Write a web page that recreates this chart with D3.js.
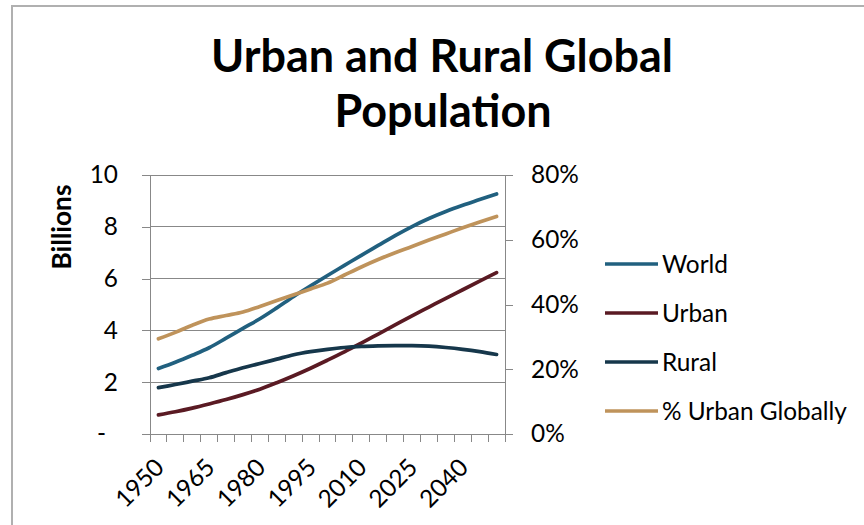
<!DOCTYPE html>
<html>
<head>
<meta charset="utf-8">
<script src="https://cdn.jsdelivr.net/npm/d3@7"></script>
<style>
  body { margin: 0; background: #fff; }
  text { font-family: Lato, "Open Sans", sans-serif; fill: #000; }
</style>
</head>
<body>
<script>
// data
var years = ["1950","1955","1960","1965","1970","1975","1980","1985","1990","1995","2000",
  "2005","2010","2015","2020","2025","2030","2035","2040","2045","2050"];
var world = [2.53,2.77,3.04,3.33,3.70,4.08,4.45,4.87,5.31,5.72,6.12,6.51,6.90,7.28,7.66,8.01,8.32,8.59,8.83,9.05,9.27];
var urban = [0.74,0.86,1.00,1.16,1.33,1.52,1.73,1.98,2.25,2.54,2.85,3.17,3.51,3.86,4.21,4.56,4.90,5.24,5.57,5.90,6.23];
var rural = [1.79,1.91,2.04,2.17,2.37,2.56,2.72,2.89,3.06,3.18,3.27,3.34,3.38,3.40,3.41,3.41,3.39,3.34,3.27,3.18,3.07];
var pctUrban = [0.294,0.314,0.336,0.355,0.366,0.377,0.394,0.412,0.430,0.448,0.466,0.491,0.516,0.539,0.560,0.579,0.599,0.618,0.637,0.655,0.672];
var yearLabels = ["1950","1965","1980","1995","2010","2025","2040"];
var leftTicks = [0,2,4,6,8,10];
var rightTicks = [0,0.2,0.4,0.6,0.8];

var SERIES = [
  {name:"World", values:world, color:"#21607f", axis:"left"},
  {name:"Urban", values:urban, color:"#5a1a23", axis:"left"},
  {name:"Rural", values:rural, color:"#16374b", axis:"left"},
  {name:"% Urban Globally", values:pctUrban, color:"#bf935b", axis:"right"}
];

var W = 864, H = 525;
var pL = 150, pR = 505, pT = 175, pB = 434;
var axisColor = "#888";

var svg = d3.select("body").append("svg").attr("width", W).attr("height", H);

// outer chart border (only top/left visible)
svg.append("rect").attr("x", 12).attr("y", 6).attr("width", 900).attr("height", 600)
  .attr("fill", "none").attr("stroke", "#b0b0b0").attr("stroke-width", 2);

// shrink/grow font so a text hits a width
function fitWidth(t, target) {
  var fs = parseFloat(t.style("font-size"));
  var w = t.node().getComputedTextLength();
  t.style("font-size", (fs * target / w).toFixed(2) + "px");
}

var x = d3.scaleBand().domain(years).range([pL, pR]).paddingInner(0).paddingOuter(0);
var y = d3.scaleLinear().domain([0, 10]).range([pB, pT]);
var y2 = d3.scaleLinear().domain([0, 0.8]).range([pB, pT]);

// gridlines
svg.append("g").selectAll("line").data(leftTicks.filter(function(d){return d>0;}))
  .enter().append("line")
  .attr("x1", pL).attr("x2", pR)
  .attr("y1", function(d){return y(d);}).attr("y2", function(d){return y(d);})
  .attr("stroke", axisColor).attr("stroke-width", 1).attr("shape-rendering", "crispEdges");

// one font size for ticks and legend, from the legend's widest entry
var probe = svg.append("text").style("font-size", "24px").text("% Urban Globally");
fitWidth(probe, 185);
var labelSize = probe.style("font-size");
probe.remove();

// left axis
var gL = svg.append("g").attr("transform", "translate(" + pL + ",0)")
  .call(d3.axisLeft(y).tickValues(leftTicks).tickSize(8).tickSizeOuter(0).tickPadding(24)
    .tickFormat(function(d){ return d === 0 ? "-" : d; }));
gL.selectAll("text").style("font-size", labelSize).attr("font-family", null)
  .attr("x", function(d){ return d === 0 ? -44 : -32; });

// right axis
var gR = svg.append("g").attr("transform", "translate(" + pR + ",0)")
  .call(d3.axisRight(y2).tickValues(rightTicks).tickSize(8).tickSizeOuter(0).tickPadding(18)
    .tickFormat(d3.format(".0%")));
gR.selectAll("text").style("font-size", labelSize).attr("font-family", null);

[gL, gR].forEach(function(g){
  g.select(".domain").attr("stroke", axisColor);
  g.selectAll(".tick line").attr("stroke", axisColor);
  g.attr("shape-rendering", "crispEdges");
});

// x axis: ticks between categories
var gX = svg.append("g").attr("shape-rendering", "crispEdges");
gX.append("line").attr("x1", pL - 8).attr("x2", pR + 8).attr("y1", pB).attr("y2", pB)
  .attr("stroke", axisColor);
var edges = years.map(function(d){ return x(d); }).concat([pR]);
gX.selectAll("line.tk").data(edges).enter().append("line").attr("class", "tk")
  .attr("x1", function(d){return d;}).attr("x2", function(d){return d;})
  .attr("y1", pB).attr("y2", pB + 8).attr("stroke", axisColor);

svg.append("g").selectAll("text").data(yearLabels).enter().append("text")
  .attr("transform", function(d){
    var cx = x(d) + x.bandwidth()/2;
    return "translate(" + (cx - 19) + "," + 483 + ") rotate(-45)";
  })
  .attr("text-anchor", "middle").attr("dy", "0.35em")
  .style("font-size", labelSize)
  .text(function(d){return d;});

// lines
var line = function(scale){
  return d3.line()
    .x(function(d,i){ return x(years[i]) + x.bandwidth()/2; })
    .y(function(d){ return scale(d); })
    .curve(d3.curveCatmullRom.alpha(0.5));
};
svg.append("g").selectAll("path").data(SERIES).enter().append("path")
  .attr("d", function(s){ return line(s.axis === "left" ? y : y2)(s.values); })
  .attr("fill", "none")
  .attr("stroke", function(s){return s.color;})
  .attr("stroke-width", 3.7)
  .attr("stroke-linecap", "round").attr("stroke-linejoin", "round");

// legend
var leg = svg.append("g").selectAll("g").data(SERIES).enter().append("g")
  .attr("transform", function(s,i){ return "translate(605," + (264 + i*49) + ")"; });
leg.append("line").attr("x1", 0).attr("x2", 53).attr("y1", 0).attr("y2", 0)
  .attr("stroke", function(s){return s.color;}).attr("stroke-width", 3.5);
leg.append("text").attr("x", 57).attr("dy", "0.35em").style("font-size", labelSize)
  .text(function(s){return s.name;});

// title
var t1 = svg.append("text").attr("x", 442).attr("y", 72).attr("text-anchor", "middle")
  .style("font-size", "44px").style("font-weight", "bold").text("Urban and Rural Global");
fitWidth(t1, 462);
svg.append("text").attr("x", 443).attr("y", 127).attr("text-anchor", "middle")
  .style("font-size", t1.style("font-size")).style("font-weight", "bold").text("Population");

// y axis title
var bt = svg.append("text").attr("transform", "translate(71,227) rotate(-90)")
  .attr("text-anchor", "middle").style("font-size", "20px").style("font-weight", "bold")
  .text("Billions");
fitWidth(bt, 85);
</script>
</body>
</html>
